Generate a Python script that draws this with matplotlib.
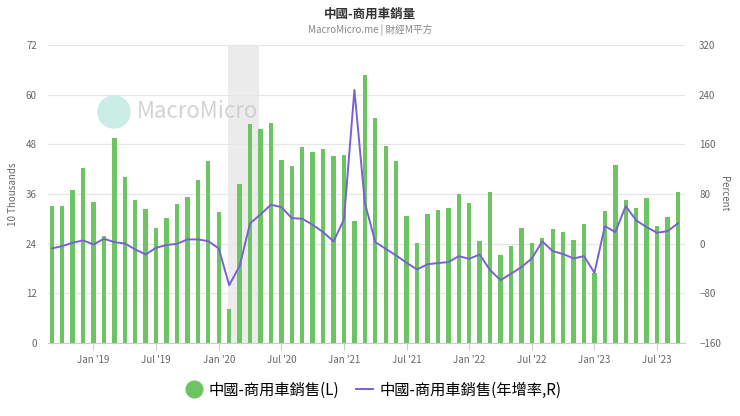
import numpy as np
import pandas as pd
from matplotlib import pyplot as plt
from matplotlib.lines import Line2D
from matplotlib.patches import Ellipse

plt.rcParams["font.family"] = ["Noto Sans CJK TC", "DejaVu Sans"]

months = pd.date_range("2018-09-01", "2023-09-01", freq="MS")

# commercial vehicle sales, 10 thousands (left axis)
sales = [
    33.0, 33.0, 37.0, 42.4, 34.2, 25.8, 49.5, 40.0, 34.6, 32.4, 27.7, 30.2,
    33.6, 35.3, 39.5, 44.1, 31.6, 8.2, 38.4, 52.8, 51.6, 53.1, 44.3, 42.7,
    47.3, 46.1, 46.8, 45.1, 45.5, 29.5, 64.7, 54.4, 47.7, 44.1, 30.8, 24.2,
    31.3, 32.2, 32.6, 36.0, 33.9, 24.6, 36.5, 21.2, 23.5, 27.8, 24.2, 25.3,
    27.5, 26.8, 25.0, 28.7, 16.9, 32.0, 43.0, 34.5, 32.6, 35.0, 28.3, 30.5,
    36.6,
]

# year-over-year growth, percent (right axis)
yoy = [
    -7.5, -3.8, 1.6, 5.4, -1.1, 8.1, 2.7, 0.5, -9.1, -17.2, -6.4, -2.1,
    0.0, 7.0, 7.0, 4.3, -7.5, -66.6, -36.0, 32.8, 47.2, 62.8, 59.1, 41.3,
    40.3, 30.6, 18.8, 3.8, 39.2, 247.5, 66.0, 2.7, -8.1, -18.8, -30.6, -41.3,
    -33.0, -31.0, -29.5, -19.9, -24.2, -17.2, -42.4, -58.5, -48.3, -37.6, -23.6, 3.8,
    -11.8, -16.5, -23.6, -19.9, -46.7, 28.5, 18.8, 60.7, 37.6, 26.8, 17.7, 20.4,
    32.8,
]

tick_labels = ["Jan '19", "Jul '19", "Jan '20", "Jul '20", "Jan '21",
               "Jul '21", "Jan '22", "Jul '22", "Jan '23", "Jul '23"]
recession = ("2020-02-01", "2020-05-01")

green = "#6cc463"
purple = "#7b60d4"
grid = "#e6e6e6"
label_color = "#666666"

x = np.arange(len(months))
tick_pos = [i for i, m in enumerate(months) if m.month in (1, 7)]

fig = plt.figure(figsize=(7.4, 4.16), dpi=100)
ax = fig.add_axes([0.065, 0.175, 0.861, 0.717])
ax2 = ax.twinx()

shade_lo = months.get_loc(pd.Timestamp(recession[0]))
shade_hi = months.get_loc(pd.Timestamp(recession[1]))
ax.axvspan(shade_lo - 0.1, shade_hi - 0.1, color="#ececec", zorder=0, lw=0)

ax.bar(x, sales, width=0.42, color=green, zorder=2)
ax2.plot(x, yoy, color=purple, lw=1.4, zorder=3)

ax.set_xlim(-0.35, 60.7)
ax.set_ylim(0, 72)
ax.set_yticks(np.arange(0, 73, 12))
ax2.set_ylim(-160, 320)
ax2.set_yticks(np.arange(-160, 321, 80))

ax.set_xticks(tick_pos)
ax.set_xticklabels(tick_labels)
ax.yaxis.grid(True, color=grid, lw=0.9)
ax.set_axisbelow(True)

for a in (ax, ax2):
    for s in a.spines.values():
        s.set_visible(False)
    a.tick_params(axis="y", length=0, labelsize=7, labelcolor=label_color, pad=8)
ax.spines["bottom"].set_visible(True)
ax.spines["bottom"].set_color("#cccccc")
ax.tick_params(axis="x", length=5, color="#cccccc", labelsize=7, labelcolor=label_color)
ax2.tick_params(axis="y", pad=10)

ax.set_ylabel("10 Thousands", fontsize=7, color=label_color, labelpad=6)
ax2.set_ylabel("Percent", fontsize=7, color=label_color, rotation=270, labelpad=6)

fig.text(0.5, 0.965, "中國-商用車銷量", ha="center", va="center", fontsize=9,
         color="#333333", fontweight="bold")
fig.text(0.5, 0.927, "MacroMicro.me | 財經M平方", ha="center", va="center",
         fontsize=7, color="#888888")

# watermark
fig.patches.append(Ellipse((114 / 740, 1 - 112 / 416), 32 / 740, 32 / 416,
                           transform=fig.transFigure, color="#c5ece4",
                           alpha=0.9, zorder=1))
fig.text(137 / 740, 1 - 112 / 416, "MacroMicro", fontsize=16, color="#c8c8c8",
         va="center", ha="left", alpha=0.8)

handles = [
    Line2D([], [], marker="o", ls="", color=green, markersize=12),
    Line2D([], [], color=purple, lw=1.4),
]
fig.legend(handles, ["中國-商用車銷售(L)", "中國-商用車銷售(年增率,R)"],
           loc="center", bbox_to_anchor=(0.505, 0.062), ncol=2, frameon=False,
           fontsize=11, handlelength=1.1, columnspacing=1.1, handletextpad=0.4)

fig.savefig("out.png", dpi=100)
